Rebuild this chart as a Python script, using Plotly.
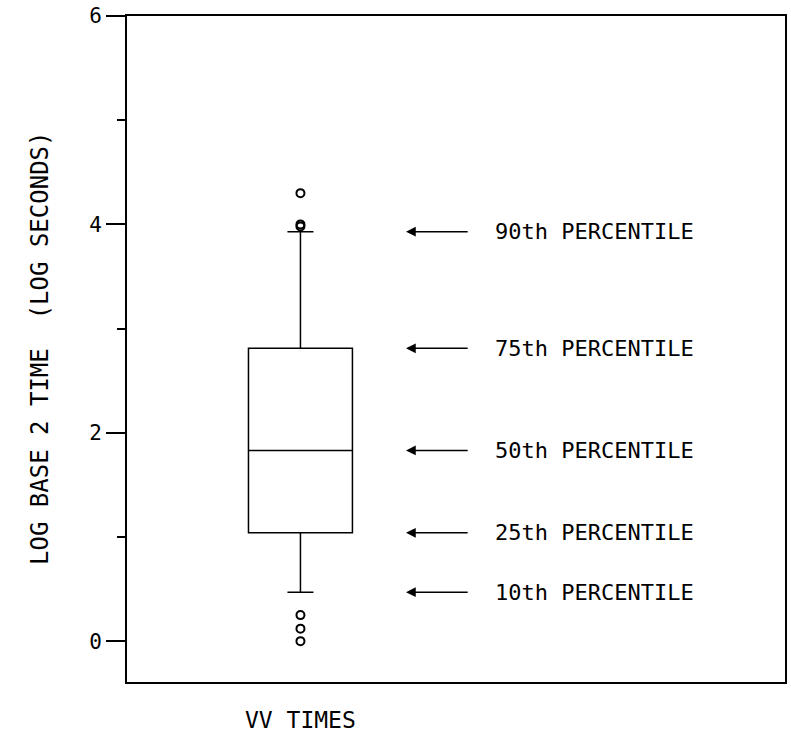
import plotly.graph_objects as go

# ---- data ----
category = ["VV TIMES"]
p10 = [0.47]
q1 = [1.04]
median = [1.83]
q3 = [2.81]
p90 = [3.93]
outliers = [4.30, 4.00, 3.98, 0.25, 0.12, 0.00]
pct_labels = ["90th PERCENTILE", "75th PERCENTILE", "50th PERCENTILE",
              "25th PERCENTILE", "10th PERCENTILE"]
y_tickvals = [0, 2, 4, 6]

FONT = "DejaVu Sans Mono"
box_x = 1.318

fig = go.Figure()
fig.add_trace(go.Box(
    x=[box_x], q1=q1, median=median, q3=q3,
    lowerfence=p10, upperfence=p90,
    width=0.79, whiskerwidth=0.25,
    fillcolor="rgba(0,0,0,0)",
    line=dict(color="black", width=1.5),
    boxpoints=False, showlegend=False, hoverinfo="skip",
))
fig.add_trace(go.Scatter(
    x=[box_x] * len(outliers), y=outliers, mode="markers",
    marker=dict(symbol="circle-open", size=8, color="black", line=dict(width=2)),
    showlegend=False, hoverinfo="skip",
))

pct_vals = [p90[0], q3[0], median[0], q1[0], p10[0]]
for val, lab in zip(pct_vals, pct_labels):
    fig.add_annotation(
        x=2.12, y=val, ax=2.60, ay=val, xref="x", yref="y", axref="x", ayref="y",
        showarrow=True, arrowhead=2, arrowsize=1.3, arrowwidth=1.5, arrowcolor="black",
        text="",
    )
    fig.add_annotation(
        x=2.78, y=val, xref="x", yref="y", text=lab, showarrow=False,
        xanchor="left", yanchor="middle",
        font=dict(family=FONT, size=22, color="black"),
    )

fig.add_annotation(
    x=box_x, y=0, xref="x", yref="paper", yshift=-38, text=category[0],
    showarrow=False, xanchor="center", yanchor="middle",
    font=dict(family=FONT, size=23, color="black"),
)
fig.add_annotation(
    x=0, y=0.5, xref="paper", yref="paper", xshift=-87,
    text="LOG BASE 2 TIME  (LOG SECONDS)", textangle=-90,
    showarrow=False, xanchor="center", yanchor="middle",
    font=dict(family=FONT, size=24, color="black"),
)

fig.update_layout(
    width=791, height=734,
    margin=dict(l=127, r=4, t=14, b=52),
    paper_bgcolor="white", plot_bgcolor="white",
    xaxis=dict(range=[0, 5], showgrid=False, zeroline=False, showticklabels=False,
               ticks="", showline=True, linecolor="black", linewidth=2, mirror=True),
    yaxis=dict(range=[-0.392, 6.0], tickvals=y_tickvals, ticks="outside", ticklen=19,
               tickwidth=2, tickcolor="black", showgrid=False, zeroline=False,
               showline=True, linecolor="black", linewidth=2, mirror=True,
               tickfont=dict(family=FONT, size=21, color="black"),
               minor=dict(tickvals=[1, 3, 5], ticks="outside", ticklen=8,
                          tickwidth=2, tickcolor="black", showgrid=False)),
)

fig.write_html("out.html")
